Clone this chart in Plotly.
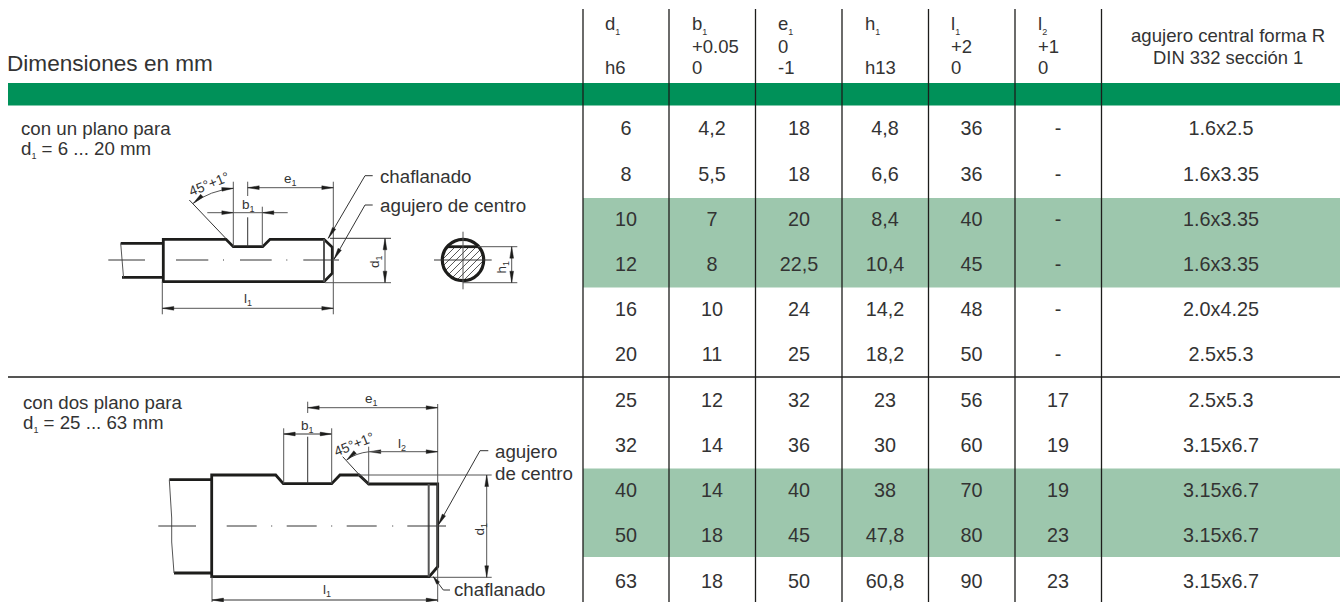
import math
import plotly.graph_objects as go

# ---------- table data ----------
d1 = ["6", "8", "10", "12", "16", "20", "25", "32", "40", "50", "63"]
b1 = ["4,2", "5,5", "7", "8", "10", "11", "12", "14", "14", "18", "18"]
e1 = ["18", "18", "20", "22,5", "24", "25", "32", "36", "40", "45", "50"]
h1 = ["4,8", "6,6", "8,4", "10,4", "14,2", "18,2", "23", "30", "38", "47,8", "60,8"]
l1 = ["36", "36", "40", "45", "48", "50", "56", "60", "70", "80", "90"]
l2 = ["-", "-", "-", "-", "-", "-", "17", "19", "19", "23", "23"]
centre = ["1.6x2.5", "1.6x3.35", "1.6x3.35", "1.6x3.35", "2.0x4.25", "2.5x5.3",
          "2.5x5.3", "3.15x6.7", "3.15x6.7", "3.15x6.7", "3.15x6.7"]
columns = [d1, b1, e1, h1, l1, l2, centre]

# ---------- layout of the table ----------
col_lines = [583, 669, 755.5, 842, 928.5, 1015, 1101.5]
col_centres = [626, 712, 799, 885, 971.5, 1058, 1221]
row_centres = [130.5, 176.5, 221.5, 266.5, 311.5, 356.5, 402.5, 447.5, 492.5, 537.5, 583.5]

INK = "#333333"
LINE = "#1d1d1b"
GREY = "#555555"
GREEN = "#009159"
PALE = "#9dc7ad"
FONT = "Liberation Sans"
THICK = 2.8

shapes = []
annotations = []


def rect(x0, y0, x1, y1, color):
    shapes.append(dict(type="rect", x0=x0, y0=y0, x1=x1, y1=y1, fillcolor=color,
                       line=dict(width=0), layer="below"))


def seg(x0, y0, x1, y1, w=1.0, c=GREY):
    shapes.append(dict(type="line", x0=x0, y0=y0, x1=x1, y1=y1,
                       line=dict(color=c, width=w)))


def poly(points, w=THICK, c=LINE, closed=False):
    p = "M " + " L ".join(f"{x} {y}" for x, y in points) + (" Z" if closed else "")
    shapes.append(dict(type="path", path=p, line=dict(color=c, width=w)))


def arrow(tipx, tipy, fromx, fromy, length=11.5, half=1.9):
    dx, dy = fromx - tipx, fromy - tipy
    n = math.hypot(dx, dy)
    ux, uy = dx / n, dy / n
    bx, by = tipx + ux * length, tipy + uy * length
    p = (f"M {tipx} {tipy} L {bx - uy * half} {by + ux * half} "
         f"L {bx + uy * half} {by - ux * half} Z")
    shapes.append(dict(type="path", path=p, fillcolor="#1d1d1b",
                       line=dict(color="#1d1d1b", width=0.4)))


def sub(base, idx, size=9, shift=5):
    return f'{base}<span style="font-size:{size}px;baseline-shift:-{shift}px">{idx}</span>'


def small(base, idx):
    return sub(base, idx, 9, 3)


def text(x, y, s, size=18, anchor="left", angle=0, color=INK):
    anchor = "center" if anchor == "middle" else anchor
    annotations.append(dict(x=x, y=y, xref="x", yref="y", text=s, showarrow=False,
                            xanchor=anchor, yanchor="middle", textangle=angle,
                            align=anchor, borderpad=0, borderwidth=0,
                            font=dict(family=FONT, size=size, color=color)))


# ---------- bands and rules ----------
rect(8, 83, 1340, 105.5, GREEN)
rect(583, 198, 1340, 287.5, PALE)
rect(583, 468.5, 1340, 557, PALE)
for x in col_lines:
    seg(x, 9, x, 602, 1.3, LINE)
seg(8, 377, 1340, 377, 1.6, LINE)

# ---------- header ----------
text(7, 63, "Dimensiones en mm", 22.6)
HEAD = 18.5
text(605, 25, sub("d", 1), HEAD)
text(605, 67, "h6", HEAD)
text(692, 25, sub("b", 1), HEAD)
text(692, 46, "+0.05", HEAD)
text(692, 67, "0", HEAD)
text(778, 25, sub("e", 1), HEAD)
text(778, 46, "0", HEAD)
text(778, 67, "-1", HEAD)
text(865, 25, sub("h", 1), HEAD)
text(865, 67, "h13", HEAD)
text(951, 25, sub("l", 1), HEAD)
text(951, 46, "+2", HEAD)
text(951, 67, "0", HEAD)
text(1038, 25, sub("l", 2), HEAD)
text(1038, 46, "+1", HEAD)
text(1038, 67, "0", HEAD)
text(1228, 35, "agujero central forma R", 18.6, "middle")
text(1228, 57, "DIN 332 sección 1", 18.4, "middle")

# ---------- left captions ----------
text(20.5, 128, "con un plano para", 18.7)
text(20.5, 149, sub("d", 1, 9, 4) + " = 6 ... 20 mm", 18.7)
text(22.5, 402, "con dos plano para", 18.7)
text(22.5, 423, sub("d", 1, 9, 4) + " = 25 ... 63 mm", 18.7)

# ---------- drawing 1 : one flat ----------
poly([(120.7, 243.3), (163.3, 243.3)])
poly([(122, 277.3), (163.3, 277.3)])
seg(120.7, 243.3, 123.5, 277.3)
poly([(163.3, 239.3), (226, 239.3), (233.3, 246.7), (262.7, 246.7), (270, 239.3),
      (324, 239.3), (332.3, 247.3), (332.3, 273.3), (324, 281.7), (163.3, 281.7)],
     closed=True)
seg(324, 239.3, 324, 281.7, 2)
for a, b in [(108.3, 145), (176, 208.3), (223, 224), (240, 271.7), (286.3, 287.3), (303.3, 339)]:
    seg(a, 260, b, 260, 1, "#333333")
# l1
seg(162.3, 281.7, 162.3, 314.3)
seg(333.3, 181.7, 333.3, 314.3)
seg(162.3, 308.3, 333.3, 308.3)
arrow(162.3, 308.3, 180, 308.3)
arrow(333.3, 308.3, 310, 308.3)
text(247.5, 299, small("l", 1), 13.5, "middle")
# e1
seg(247.7, 181.7, 247.7, 196)
seg(247.7, 187.7, 333.3, 187.7)
arrow(247.7, 187.7, 270, 187.7)
arrow(333.3, 187.7, 310, 187.7)
text(290.5, 179, small("e", 1), 13.5, "middle")
# b1
seg(207.3, 212.7, 287.7, 212.7)
arrow(233.3, 212.7, 215, 212.7)
arrow(262.3, 212.7, 280, 212.7)
seg(233.3, 181.7, 233.3, 246.7)
seg(262.3, 206.7, 262.3, 246.7)
seg(247.7, 217.3, 247.7, 246.7, 1, "#333333")
text(248, 205, small("b", 1), 13.5, "middle")
# 45 deg
seg(189.3, 200, 226.7, 239.3, 1, "#333333")
shapes.append(dict(type="path", path="M 193.3 203.3 Q 210 190.5 233.3 188.3",
                   line=dict(color=GREY, width=1)))
arrow(193.3, 203.3, 201, 196.5)
arrow(233.3, 188.3, 220, 189.5)
text(208.5, 184, "45°+1°", 13.8, "middle", -22)
# leaders
poly([(372.7, 175.7), (365, 175.7), (328.3, 238.3)], 1, "#333333")
arrow(328.3, 238.3, 365, 175.7)
poly([(372.7, 205), (365, 205), (334, 259.3)], 1, "#333333")
arrow(334, 259.3, 365, 205)
text(380, 176.5, "chaflanado", 18.7)
text(380, 205.5, "agujero de centro", 18.8)
# d1
seg(330, 238.3, 391, 238.3, 1, "#333333")
seg(325, 282.7, 391, 282.7)
seg(385, 238.3, 385, 282.7)
arrow(385, 238.3, 385, 260)
arrow(385, 282.7, 385, 260)
text(375, 262, small("d", 1), 13.5, "middle", -90)
# section
cx, cy, r, flat = 463, 260, 20.7, 246.7
k = -28.0
while k < 29:
    s2 = 2 * r * r - k * k
    if s2 > 0:
        s = math.sqrt(s2)
        u1, u2 = (k + s) / 2, (k - s) / 2
        v1, v2 = k - u1, k - u2
        if v1 < flat - cy:
            v1 = flat - cy
            u1 = k - v1
        if v2 > v1:
            seg(cx + u1, cy + v1, cx + u2, cy + v2, 0.9, "#444444")
    k += 7
shapes.append(dict(type="circle", x0=cx - r, y0=cy - r, x1=cx + r, y1=cy + r,
                   line=dict(color=LINE, width=3.2)))
poly([(447.5, flat), (478.5, flat)])
seg(463, 231.7, 463, 289.3)
seg(434, 260, 491.7, 260, 1, "#333333")
seg(478, 246.7, 517.3, 246.7)
seg(463, 282.7, 517.3, 282.7)
seg(511.7, 246.7, 511.7, 282.7)
arrow(511.7, 246.7, 511.7, 265)
arrow(511.7, 282.7, 511.7, 265)
text(501.5, 267, small("h", 1), 13.5, "middle", -90)

# ---------- drawing 2 : two flats ----------
poly([(169.3, 479.7), (211, 479.7)])
poly([(174, 573), (211, 573)])
poly([(169.3, 479.7), (171.7, 518), (171.7, 542), (174, 573)], 1, GREY)
poly([(211.7, 475), (275.7, 475), (283.3, 483.7), (331.7, 483.7), (340, 475), (359, 475),
      (368.7, 484), (437.7, 484), (437.7, 566.7), (429.3, 576.7), (211.7, 576.7)],
     closed=True)
seg(428.7, 484, 428.7, 576.7, 2)
for a, b in [(158.3, 196), (226.7, 256.7), (271.2, 272.2), (286.7, 316.7), (331.2, 332.2),
             (346.7, 376.7), (392.2, 393.2), (407.3, 446)]:
    seg(a, 526, b, 526, 1, "#333333")
# l1
seg(212, 576.7, 212, 602)
seg(437.7, 404, 437.7, 602)
seg(212, 600, 437.7, 600, 1, "#333333")
arrow(212, 600, 230, 600)
arrow(437.7, 600, 420, 600)
text(326.7, 590, small("l", 1), 13.5, "middle")
# e1
seg(307.7, 401.7, 307.7, 413)
seg(307.7, 407.7, 437.7, 407.7)
arrow(307.7, 407.7, 330, 407.7)
arrow(437.7, 407.7, 420, 407.7)
text(371, 399, small("e", 1), 13.5, "middle")
# b1
seg(283.7, 434, 331.7, 434, 1, "#333333")
arrow(283.7, 434, 300, 434)
arrow(331.7, 434, 315, 434)
seg(283.7, 428.3, 283.7, 483.7)
seg(331.7, 428.3, 331.7, 483.7)
seg(307.7, 436.7, 307.7, 483.7, 1, "#333333")
text(307.7, 426, small("b", 1), 13.5, "middle")
# 45 deg and l2
seg(342.7, 456.7, 368.7, 485, 1, "#333333")
shapes.append(dict(type="path", path="M 346.7 460 Q 356 453 369.3 451.7",
                   line=dict(color=GREY, width=1)))
arrow(346.7, 460, 352, 455)
arrow(369.3, 451.7, 385, 451.7)
seg(369.3, 451.7, 437.7, 451.7)
arrow(437.7, 451.7, 420, 451.7)
seg(368.7, 446.7, 368.7, 484)
text(402, 444.5, small("l", 2), 13.5, "middle")
text(354, 444, "45°+1°", 13.8, "middle", -22)
# d1
seg(358, 475, 491.7, 475)
seg(430, 577.3, 491.7, 577.3)
seg(486.7, 475, 486.7, 577.3)
arrow(486.7, 475, 486.7, 500)
arrow(486.7, 577.3, 486.7, 550)
text(479.5, 529, small("d", 1), 13.5, "middle", -90)
# leaders
poly([(488.3, 450.7), (480, 450.7), (438.3, 525)], 1, "#333333")
arrow(438.3, 525, 480, 450.7)
poly([(450, 590), (443.3, 590), (433.3, 576.7)], 1, "#333333")
arrow(433.3, 576.7, 443.3, 590, 8, 1.8)
text(495, 451, "agujero", 18.7)
text(495, 473.5, "de centro", 18.7)
text(454, 589, "chaflanado", 18.7)

# ---------- table values through one text trace per column ----------
fig = go.Figure()
for x, values in zip(col_centres, columns):
    fig.add_trace(go.Scatter(x=[x] * len(values), y=row_centres, text=values, mode="text",
                             textposition="middle center", hoverinfo="skip",
                             textfont=dict(family=FONT, size=19.8, color=INK)))

fig.update_layout(
    width=1340, height=602, autosize=False, showlegend=False,
    margin=dict(l=0, r=0, t=0, b=0, pad=0),
    paper_bgcolor="white", plot_bgcolor="white",
    shapes=shapes, annotations=annotations,
    xaxis=dict(range=[0, 1340], visible=False, fixedrange=True),
    yaxis=dict(range=[602, 0], visible=False, fixedrange=True),
)
fig.write_html("out.html", config=dict(displayModeBar=False),
               post_script="document.body.style.margin='0';document.body.style.overflow='hidden';")
